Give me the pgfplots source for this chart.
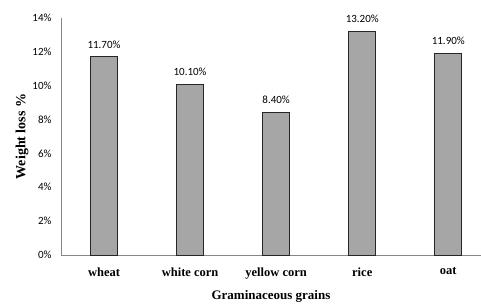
\documentclass[border=0pt]{standalone}
\usepackage{pgfplots}
\pgfplotsset{compat=1.18}
\usepackage{fontspec}
\setmainfont{Liberation Serif}
\newfontfamily\calib{Carlito}
\definecolor{barfill}{HTML}{A6A6A6}
\definecolor{axgray}{HTML}{868686}
\begin{document}
\begin{tikzpicture}
\begin{axis}[
  /pgf/number format/assume math mode=true,
  scale only axis,
  width=420pt, height=237pt,
  axis lines*=left,
  axis line style={axgray, line width=0.9pt, -},
  xmin=-0.5, xmax=4.38,
  ymin=0, ymax=14,
  ytick={0,2,4,6,8,10,12,14},
  yticklabel={\pgfmathprintnumber{\tick}\%},
  yticklabel style={font=\calib\fontsize{11}{12}\selectfont, xshift=-6pt},
  xtick=data,
  xticklabels={wheat, white corn, yellow corn, rice, oat},
  xticklabel style={font=\fontsize{12.5}{14}\selectfont\bfseries, yshift=-9pt},
  major tick length=0pt,
  ylabel={Weight loss \%},
  ylabel style={font=\fontsize{14}{16}\selectfont\bfseries, yshift=-3pt},
  xlabel={Graminaceous grains},
  xlabel style={font=\fontsize{13}{15}\selectfont\bfseries, yshift=-5pt},
  ybar, bar width=27pt,
  nodes near coords={\pgfmathprintnumber[fixed,fixed zerofill,precision=2]{\pgfplotspointmeta}\%},
  nodes near coords style={font=\calib\fontsize{11}{12}\selectfont, black, yshift=5pt},
  clip=false,
]
\addplot[fill=barfill, draw=black!85, line width=0.9pt] coordinates {(0,11.7) (1,10.1) (2,8.4) (3,13.2) (4,11.9)};
\end{axis}
\pgfresetboundingbox
\path[use as bounding box] (-61pt,-49pt) rectangle (420pt,255pt);
\end{tikzpicture}
\end{document}
